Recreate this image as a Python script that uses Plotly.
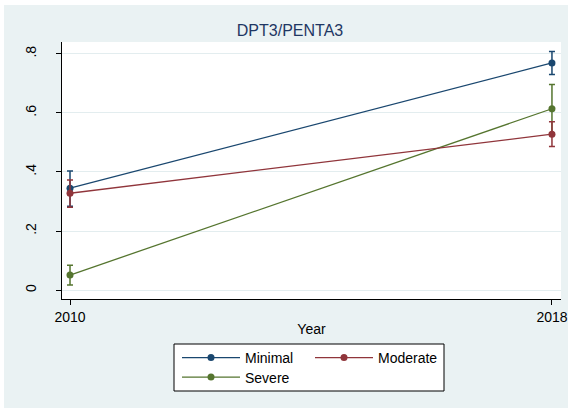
import plotly.graph_objects as go

# values
years = [2010, 2018]

minimal = [0.345, 0.769]
minimal_lo = [0.284, 0.730]
minimal_hi = [0.403, 0.808]

moderate = [0.328, 0.528]
moderate_lo = [0.281, 0.486]
moderate_hi = [0.373, 0.570]

severe = [0.051, 0.614]
severe_lo = [0.017, 0.533]
severe_hi = [0.084, 0.696]

y_ticks = [0, 0.2, 0.4, 0.6, 0.8]
y_labels = ["0", ".2", ".4", ".6", ".8"]

NAVY = "#1a476f"
MAROON = "#90353b"
GREEN = "#55752f"
BG = "#EAF2F3"
FONT = "Liberation Sans, Arial, sans-serif"


def series(name, y, lo, hi, color, legend):
    return go.Scatter(
        x=years, y=y, name=name, mode="lines+markers",
        line=dict(color=color, width=1.3),
        marker=dict(color=color, size=7),
        error_y=dict(
            type="data", symmetric=False,
            array=[h - v for h, v in zip(hi, y)],
            arrayminus=[v - l for v, l in zip(y, lo)],
            color=color, thickness=1.5, width=3,
        ),
        legend=legend,
    )


fig = go.Figure()
fig.add_trace(series("Minimal", minimal, minimal_lo, minimal_hi, NAVY, "legend"))
fig.add_trace(series("Severe", severe, severe_lo, severe_hi, GREEN, "legend3"))
fig.add_trace(series("Moderate", moderate, moderate_lo, moderate_hi, MAROON, "legend2"))

# paper coords: plot area is 62..561 px wide, 42..299 px tall
def px_x(p):
    return (p - 62) / 499


def px_y(p):
    return (299 - p) / 257


def legend_at(left, top):
    return dict(x=px_x(left), y=px_y(top), xanchor="left", yanchor="top",
                bgcolor="rgba(0,0,0,0)", itemwidth=58, font=dict(size=14))


fig.update_layout(
    width=575, height=408,
    margin=dict(l=62, r=14, t=42, b=109, autoexpand=False),
    paper_bgcolor=BG, plot_bgcolor="white",
    font=dict(family=FONT, size=14, color="black"),
    title=dict(text="DPT3/PENTA3", font=dict(size=16, color="#1f3763"),
               x=px_x(290), xref="paper", xanchor="center",
               y=1 - 30 / 408, yanchor="middle"),
    showlegend=True,
    legend=legend_at(177, 342),
    legend2=legend_at(310, 342),
    legend3=legend_at(177, 361.5),
    shapes=[
        # white frame around the grey graph region
        dict(type="rect", xref="paper", yref="paper", x0=px_x(0), x1=px_x(4),
             y0=px_y(408), y1=px_y(0), fillcolor="white", line_width=0, layer="below"),
        dict(type="rect", xref="paper", yref="paper", x0=px_x(568), x1=px_x(575),
             y0=px_y(408), y1=px_y(0), fillcolor="white", line_width=0, layer="below"),
        dict(type="rect", xref="paper", yref="paper", x0=px_x(0), x1=px_x(575),
             y0=px_y(5), y1=px_y(0), fillcolor="white", line_width=0, layer="below"),
        # legend box
        dict(type="rect", xref="paper", yref="paper", x0=px_x(174), x1=px_x(444),
             y0=px_y(391), y1=px_y(344), fillcolor="white",
             line=dict(color="black", width=1), layer="below"),
    ],
)

fig.update_xaxes(
    range=[2009.867, 2018.15], tickvals=years, ticktext=["2010", "2018"],
    showgrid=False, zeroline=False, showline=True, linecolor="black", linewidth=1,
    ticks="outside", ticklen=5, tickcolor="black", tickfont=dict(size=14),
    ticklabelstandoff=0, automargin=False,
    title=dict(text="Year", font=dict(size=14), standoff=0),
)
fig.update_yaxes(
    range=[-0.03, 0.84], tickvals=y_ticks, ticktext=y_labels, tickangle=-90,
    showgrid=True, gridcolor="#E3EDEF", gridwidth=1, zeroline=False,
    showline=True, linecolor="black", linewidth=1,
    ticks="outside", ticklen=5, tickcolor="black", tickfont=dict(size=14),
    ticklabelstandoff=14, automargin=False,
)

# the page body has an 8px default margin; drop it so the figure sits at 0,0
fig.write_html("out.html", config={"displayModeBar": False},
               post_script="document.body.style.margin='0';")
